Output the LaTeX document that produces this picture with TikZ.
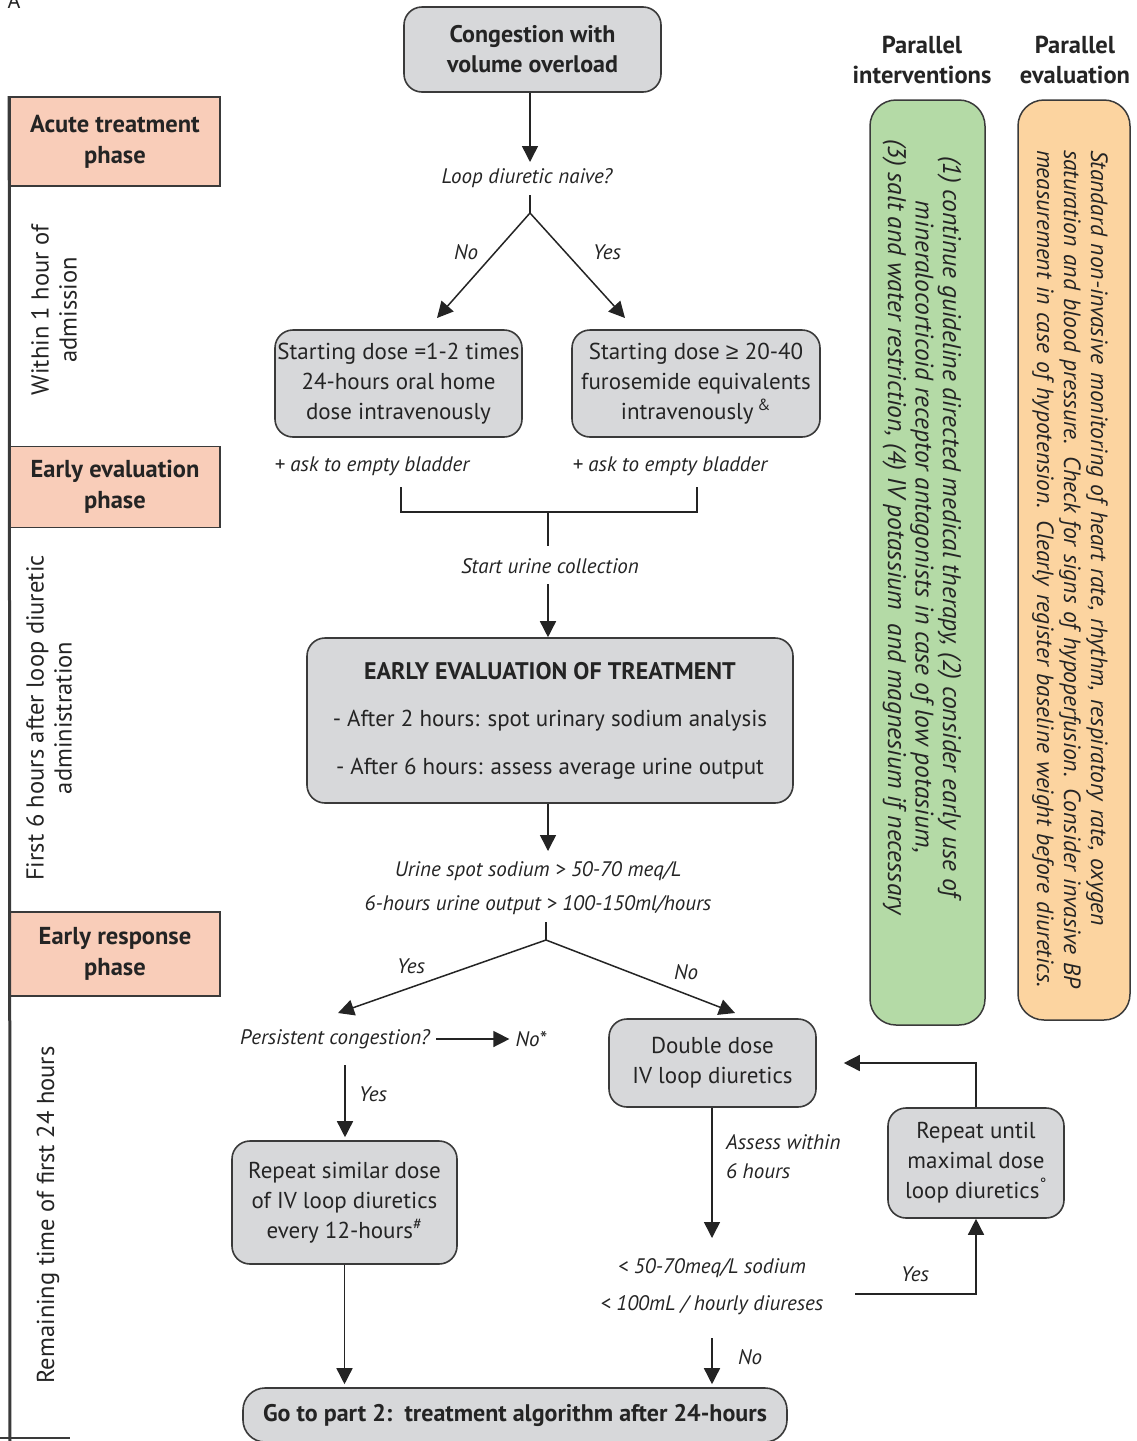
\documentclass[tikz,border=0pt]{standalone}
\usepackage{fontspec}
\setmainfont{PT Sans}
\newfontfamily\symfnt{Liberation Sans}
\usetikzlibrary{arrows.meta,calc}
\definecolor{boxgray}{HTML}{D7D8DA}
\definecolor{salmon}{HTML}{F9CDB9}
\definecolor{pgreen}{HTML}{B4DAA6}
\definecolor{porange}{HTML}{FCD4A0}
\definecolor{ink}{HTML}{242424}
\definecolor{edge}{HTML}{3A3A3A}
\begin{document}
\begin{tikzpicture}[x=1pt,y=-1pt,
  every node/.style={text=ink},
  gbox/.style={draw=edge, line width=1.6pt, fill=boxgray, rounded corners=18pt, align=center, inner sep=0pt, font=\fontsize{23}{30}\selectfont},
  bfnt/.style={font=\bfseries\fontsize{24}{30}\selectfont},
  phbox/.style={draw=edge, line width=1.6pt, fill=salmon, align=center, inner sep=0pt, minimum width=210, font=\bfseries\fontsize{24.5}{31}\selectfont},
  pbox/.style={draw=edge, line width=1.5pt, rounded corners=26pt, inner sep=0pt},
  lbl/.style={font=\itshape\fontsize{21}{34}\selectfont, align=center, inner sep=0pt},
  side/.style={font=\fontsize{24.5}{28}\selectfont, align=center, rotate=90, inner sep=0pt},
  hdr/.style={font=\bfseries\fontsize{24.5}{30}\selectfont, align=center, inner sep=0pt},
  arr/.style={draw=ink, line width=1.5pt, -{Triangle[length=16pt,width=16pt]}},
  ln/.style={draw=ink, line width=1.5pt},
]
\useasboundingbox (0,0) rectangle (1136,1441);
\fill[white] (0,0) rectangle (1136,1441);

% corner label
\node[font=\fontsize{22}{26}\selectfont, anchor=base, inner sep=0pt] (lettA) at (14,8) {A};

% phase boxes and timeline
\node[phbox, minimum height=89] (ph1) at (115,141.5) {Acute treatment\\phase};
\node[phbox, minimum height=81] (ph2) at (115,487) {Early evaluation\\phase};
\node[phbox, minimum height=84] (ph3) at (115,954) {Early response\\phase};
\coordinate (tlend) at (10,1441);
\draw[draw=edge, line width=3pt] (ph1.north west) -- (tlend);
\coordinate (bl0) at (0,1438);
\coordinate (bl1) at (70,1438);
\draw[draw=edge, line width=2pt] (bl0) -- (bl1);

\node[side] (t1) at (54,310) {Within 1 hour of\\admission};
\node[side] (t2) at (49,718) {First 6 hours after loop diuretic\\administration};
\node[side] (t3) at (48,1215) {Remaining time of first 24 hours};

% top
\node[gbox, bfnt, minimum width=257, minimum height=85] (cong) at (532.5,49.5) {Congestion with\\volume overload};
\node[lbl] (q1) at (527,178) {Loop diuretic naive?};
\coordinate (q1a) at (530,162);
\coordinate (q1b) at (530,195);
\coordinate (s1) at (530,213);
\coordinate (aL) at (437,318);
\coordinate (aR) at (625,318);
\draw[arr] (cong.south -| q1a) -- (q1a);
\draw[ln] (q1b) -- (s1);
\draw[arr] (s1) -- (aL);
\draw[arr] (s1) -- (aR);
\node[lbl] (noA) at (466,252) {No};
\node[lbl] (yesA) at (607,252) {Yes};

\node[gbox, minimum width=247, minimum height=107] (sL) at (398.5,383.5) {Starting dose =1-2 times\\24-hours oral home\\dose intravenously};
\node[gbox, minimum width=248, minimum height=107] (sR) at (696,383.5) {Starting dose {\symfnt ≥} 20-40\\furosemide equivalents\\intravenously\,\textsuperscript{\&}};

\node[lbl] (bL) at (372,466) {+ ask to empty bladder};
\node[lbl] (bR) at (670,466) {+ ask to empty bladder};
\coordinate (brL) at (401,487);
\coordinate (brR) at (697,487);
\coordinate (bj) at (548,512);
\coordinate (bj2) at (548,546);
\draw[ln] (brL) |- (bj) -| (brR);
\draw[ln] (bj) -- (bj2);
\node[lbl] (uc) at (550,566) {Start urine collection};
\coordinate (uca) at (548,584);

\node[gbox, minimum width=486, minimum height=165] (eval) at (550,720.5) {{\bfseries\fontsize{24}{30}\selectfont EARLY EVALUATION OF TREATMENT}\\[17pt]- After 2 hours: spot urinary sodium analysis\\[18pt]- After 6 hours: assess average urine output};
\draw[arr] (uca) -- (eval.north -| uca);
\coordinate (ev2) at (548,851);
\draw[arr] (eval.south -| ev2) -- (ev2);

\node[lbl] (crit) at (538,888) {Urine spot sodium > 50-70 meq/L\\6-hours urine output > 100-150ml/hours};
\coordinate (c1) at (546,922);
\coordinate (s2) at (546,940);
\coordinate (aY) at (338,1013);
\coordinate (aN) at (735,1013);
\draw[ln] (c1) -- (s2);
\draw[arr] (s2) -- (aY);
\draw[arr] (s2) -- (aN);
\node[lbl] (yesB) at (411,966) {Yes};
\node[lbl] (noB) at (686,972) {No};

\node[lbl] (pc) at (335,1039) {Persistent congestion?};
\node[lbl] (nostar) at (531,1039) {No*};
\draw[arr] ([xshift=6pt]pc.east) -- ([xshift=-6pt]nostar.west);

\node[gbox, minimum width=225, minimum height=123] (rep) at (344.5,1202.5) {Repeat similar dose\\of IV loop diuretics\\every 12-hours\textsuperscript{\#}};
\coordinate (pcy) at (345,1065);
\draw[arr, shorten >=3pt] (pcy) -- (rep.north -| pcy);
\node[lbl] (yesC) at (373,1094) {Yes};

\node[gbox, minimum width=207, minimum height=88] (dbl) at (712.5,1063) {Double dose\\IV loop diuretics};
\coordinate (dblA) at (712,1238);
\draw[arr] (dbl.south -| dblA) -- (dblA);
\node[lbl, font=\itshape\fontsize{21}{29}\selectfont, align=left, anchor=west] (assess) at (726,1157) {Assess within\\6 hours};

\node[lbl, font=\itshape\fontsize{21}{37}\selectfont] (c2) at (712,1286.5) {< 50-70meq/L sodium\\< 100mL / hourly diureses};
\coordinate (c2a) at (712,1338);
\coordinate (c2y) at (855,1294);
\node[lbl] (noC) at (750,1357) {No};

\node[gbox, minimum width=176, minimum height=110] (ru) at (976,1163) {Repeat until\\maximal dose\\loop diuretics\textsuperscript{°}};
\draw[arr] (c2y) -| (ru.south);
\node[lbl] (yesD) at (915,1274) {Yes};
\draw[arr] (ru.north) |- ([xshift=27pt]dbl.east);

\node[gbox, bfnt, minimum width=544, minimum height=54, rounded corners=22pt] (go) at (515,1415) {Go to part 2:\ \ treatment algorithm after 24-hours};
\draw[arr, shorten >=3pt] (rep.south) -- (go.north -| rep.south);
\draw[arr, shorten >=3pt] (c2a) -- (go.north -| c2a);

% parallel columns
\node[hdr] (h1) at (922,60) {Parallel\\interventions};
\node[hdr] (h2) at (1075,60) {Parallel\\evaluation};
\node[pbox, fill=pgreen, minimum width=115, minimum height=925] (gb) at (927.5,562.5) {};
\node[pbox, fill=porange, minimum width=112, minimum height=920] (ob) at (1074,560) {};
\node[rotate=-90, font=\itshape\fontsize{25.5}{27.5}\selectfont, align=center, inner sep=0pt] (gt) at (922,527) {(1) continue guideline directed medical therapy, (2) consider early use of\\mineralocorticoid receptor antagonists in case of low potasium,\\(3) salt and water restriction, (4) IV potassium\ \ and magnesium if necessary};
\node[rotate=-90, font=\itshape\fontsize{23.5}{27}\selectfont, align=left, text width=880pt, inner sep=0pt] (ot) at (1070,590) {Standard non-invasive monitoring of heart rate, rhythm, respiratory rate, oxygen\\saturation and blood pressure. Check for signs of hypoperfusion. Consider invasive BP\\measurement in case of hypotension. Clearly register baseline weight before diuretics.};
\end{tikzpicture}
\end{document}
